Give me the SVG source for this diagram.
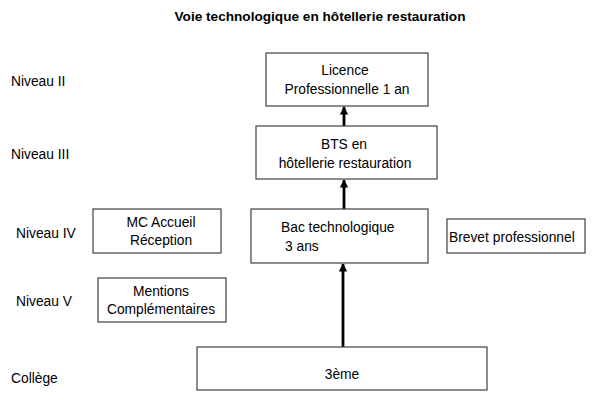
<svg xmlns="http://www.w3.org/2000/svg" width="600" height="400" viewBox="0 0 600 400">
<defs>
<style>
text{font-family:"Liberation Sans",Arial,sans-serif;font-size:13.8px;fill:#000}
.t{font-weight:bold;font-size:13.5px}
.b{fill:#fff;stroke:#404040;stroke-width:1.2}
.c{text-anchor:middle}
.e{stroke:#000;stroke-width:2.8;fill:none;marker-end:url(#ah)}
</style>
<marker id="ah" viewBox="0 0 10 10" refX="9" refY="5" markerWidth="3" markerHeight="3.2" orient="auto" markerUnits="strokeWidth">
<path d="M0,0 L10,5 L0,10 z" fill="#000"/>
</marker>
</defs>
<rect width="600" height="400" fill="#fff"/>
<text class="t c" x="320" y="21" textLength="291" lengthAdjust="spacingAndGlyphs">Voie technologique en hôtellerie restauration</text>
<g id="levels">
<text x="11" y="86">Niveau II</text>
<text x="11" y="159">Niveau III</text>
<text x="16" y="238">Niveau IV</text>
<text x="16" y="306">Niveau V</text>
<text x="11" y="383">Collège</text>
</g>
<g id="edges">
<line class="e" x1="343" y1="347" x2="343" y2="264"/>
<line class="e" x1="344" y1="209" x2="344" y2="180"/>
<line class="e" x1="344" y1="126" x2="344" y2="107"/>
</g>
<g id="licence">
<rect class="b" x="266" y="53" width="162" height="53"/>
<text class="c" x="345" y="75">Licence</text>
<text class="c" x="347" y="94">Professionnelle 1 an</text>
</g>
<g id="bts">
<rect class="b" x="256" y="126" width="181" height="53"/>
<text class="c" x="344" y="149">BTS en</text>
<text class="c" x="345" y="168">hôtellerie restauration</text>
</g>
<g id="bac">
<rect class="b" x="251" y="209" width="177" height="54"/>
<text x="281" y="232">Bac technologique</text>
<text x="285" y="251">3 ans</text>
</g>
<g id="mc">
<rect class="b" x="93" y="209" width="128" height="44"/>
<text class="c" x="161" y="227">MC Accueil</text>
<text class="c" x="161" y="245">Réception</text>
</g>
<g id="brevet">
<rect class="b" x="447" y="219" width="138" height="34"/>
<text x="449" y="242">Brevet professionnel</text>
</g>
<g id="mentions">
<rect class="b" x="98" y="278" width="128" height="44"/>
<text class="c" x="161" y="296">Mentions</text>
<text class="c" x="161" y="314">Complémentaires</text>
</g>
<g id="troisieme">
<rect class="b" x="197" y="347" width="290" height="43"/>
<text class="c" x="342" y="379">3ème</text>
</g>
</svg>
